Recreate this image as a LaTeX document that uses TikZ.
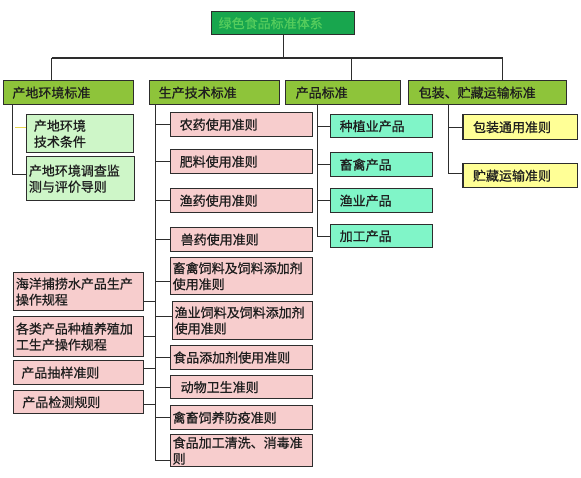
\documentclass[tikz,border=0pt]{standalone}
\usepackage{fontspec}
\newfontfamily\cjk[FakeBold=0.8]{Noto Sans CJK SC}
\definecolor{linec}{RGB}{45,45,45}
\definecolor{titlefill}{RGB}{24,166,78}
\definecolor{titletext}{RGB}{84,204,92}
\definecolor{levelfill}{RGB}{142,196,58}
\definecolor{greenfill}{RGB}{206,246,200}
\definecolor{pinkfill}{RGB}{247,205,205}
\definecolor{aquafill}{RGB}{128,245,200}
\definecolor{yellowfill}{RGB}{255,255,150}
\definecolor{txt}{RGB}{30,30,30}
\definecolor{yline}{RGB}{232,214,80}
\newcommand\mkbox[8]{%
  \pgfmathsetmacro\mybw{#4-#2}%
  \pgfmathsetmacro\mybh{#5-#3}%
  \pgfmathsetmacro\mytw{#4-#2-2*#7}%
  \node[boxbase,#6,minimum width=\mybw pt,minimum height=\mybh pt,text width=\mytw pt,inner xsep=#7pt] (#1) at (#2,#3) {#8};}
\tikzset{
  boxbase/.style={draw=linec,line width=1.4pt,anchor=north west,inner ysep=0pt,align=left,
    font=\cjk\fontsize{13}{16}\selectfont,text=txt},
  titlebox/.style={fill=titlefill,text=titletext},
  levelbox/.style={fill=levelfill},
  greenbox/.style={fill=greenfill},
  pinkbox/.style={fill=pinkfill},
  aquabox/.style={fill=aquafill},
  yellowbox/.style={fill=yellowfill},
  conn/.style={draw=linec,line width=1.2pt},
  yconn/.style={draw=yline,line width=1.2pt}
}
\begin{document}
\begin{tikzpicture}[x=1pt,y=-1pt]
\fill[white] (0,0) rectangle (581,477);
\useasboundingbox (0,0) rectangle (581,477);
% title
\mkbox{title}{211}{11}{354}{34}{titlebox}{7}{绿色食品标准体系}
% level 1
\mkbox{b1}{2.7}{80}{133}{104}{levelbox}{9}{产地环境标准}
\mkbox{b2}{149}{80}{279}{104}{levelbox}{9}{生产技术标准}
\mkbox{b3}{285}{80}{400}{104}{levelbox}{10}{产品标准}
\mkbox{b4}{408}{80}{565.7}{104}{levelbox}{10}{包装、贮藏运输标准}
% group 1
\mkbox{g1}{25.7}{114}{133}{152}{greenbox}{7.5}{产地环境\\技术条件}
\mkbox{g2}{25.7}{156}{134}{200}{greenbox}{2.5}{产地环境调查监\\测与评价导则}
% group 2
\mkbox{p1}{170}{112}{312}{136}{pinkbox}{9}{农药使用准则}
\mkbox{p2}{170}{149}{312}{173}{pinkbox}{9}{肥料使用准则}
\mkbox{p3}{170}{188}{312}{212}{pinkbox}{9}{渔药使用准则}
\mkbox{p4}{170}{227}{312}{250.7}{pinkbox}{10}{兽药使用准则}
\mkbox{p5}{170}{257}{312}{294}{pinkbox}{2}{畜禽饲料及饲料添加剂\\使用准则}
\mkbox{p6}{172}{300.7}{312}{339}{pinkbox}{2}{渔业饲料及饲料添加剂\\使用准则}
\mkbox{p7}{170}{345}{312}{368.7}{pinkbox}{2.5}{食品添加剂使用准则}
\mkbox{p8}{170}{375}{312}{398}{pinkbox}{10}{动物卫生准则}
\mkbox{p9}{170}{405}{312}{429}{pinkbox}{2}{禽畜饲养防疫准则}
\mkbox{p10}{170}{434}{312}{466}{pinkbox}{2}{食品加工清洗、消毒准\\则}
\mkbox{l1}{12.7}{272}{142.7}{310}{pinkbox}{2.5}{海洋捕捞水产品生产\\操作规程}
\mkbox{l2}{12.7}{316}{142.7}{356}{pinkbox}{2.5}{各类产品种植养殖加\\工生产操作规程}
\mkbox{l3}{12.7}{360}{142.7}{384}{pinkbox}{8}{产品抽样准则}
\mkbox{l4}{12.7}{390}{142.7}{413}{pinkbox}{9}{产品检测规则}
% group 3
\mkbox{a1}{330}{114}{431.7}{137}{aquabox}{9}{种植业产品}
\mkbox{a2}{330}{152}{431.7}{176}{aquabox}{9}{畜禽产品}
\mkbox{a3}{330}{188}{431.7}{212}{aquabox}{9}{渔业产品}
\mkbox{a4}{330}{224}{431.7}{247}{aquabox}{9}{加工产品}
% group 4
\mkbox{y1}{462.3}{114}{576.7}{139}{yellowbox}{10}{包装通用准则}
\mkbox{y2}{462.3}{163}{576.7}{187}{yellowbox}{10}{贮藏运输准则}
% bus
\coordinate (bus1) at (51.7,58);
\coordinate (bus3) at (351.7,58);
\coordinate (bus4) at (502.7,58);
\draw[conn] (title.south) -- (title.south |- bus1);
\draw[conn] (bus1) -- (bus4);
\draw[conn] (bus1) -- (bus1 |- b1.north);
\draw[conn] (bus3) -- (bus3 |- b3.north);
\draw[conn] (bus4) -- (bus4 |- b4.north);
% trunk 1
\coordinate (t1) at ([xshift=10pt]b1.south west);
\draw[conn] (t1) |- ([yshift=4pt]g2.west);
\draw[yconn] ([yshift=6pt]g1.west) -- ([yshift=6pt,xshift=2pt]g1.west -| t1);
% trunk 2
\coordinate (t2) at ([xshift=6.7pt]b2.south west);
\draw[conn] (t2) |- ([yshift=-10pt]p10.west);
\foreach \n in {p1,p2,p3,p4,p7,p8,p9}{\draw[conn] (\n.west) -- (\n.west -| t2);}
\draw[conn] ([yshift=-5pt]p5.west) -- ([yshift=-5pt]p5.west -| t2);
\draw[conn] ([yshift=4pt]p6.west) -- ([yshift=4pt]p6.west -| t2);
\draw[conn] ([yshift=-10pt]l1.east) -- ([yshift=-10pt]l1.east -| t2);
\draw[conn] (l2.east) -- (l2.east -| t2);
\draw[conn] ([yshift=4pt]l3.east) -- ([yshift=4pt]l3.east -| t2);
\draw[conn] ([yshift=-2.5pt]l4.east) -- ([yshift=-2.5pt]l4.east -| t2);
% trunk 3
\coordinate (t3) at ([xshift=32.7pt]b3.south west);
\draw[conn] (t3) |- (a4.west);
\foreach \n in {a1,a2,a3}{\draw[conn] (\n.west) -- (\n.west -| t3);}
% trunk 4
\coordinate (t4) at ([xshift=40.7pt]b4.south west);
\draw[conn] (t4) |- ([yshift=2pt]y2.west);
\draw[conn] (y1.west) -- (y1.west -| t4);
\end{tikzpicture}
\end{document}
